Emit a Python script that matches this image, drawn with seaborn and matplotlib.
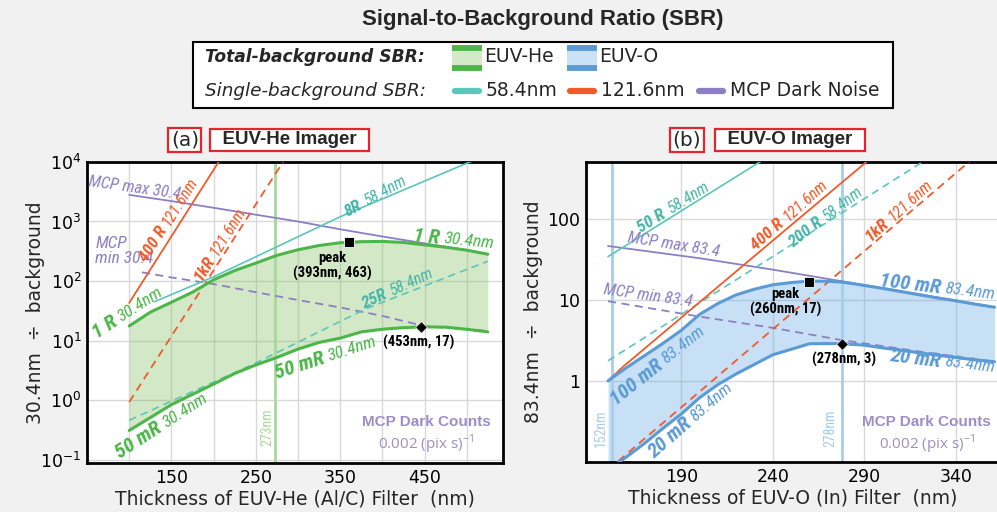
import numpy as np
import matplotlib
matplotlib.use("Agg")
import matplotlib.pyplot as plt
import matplotlib.ticker as mticker
from matplotlib import font_manager
from matplotlib.lines import Line2D
from matplotlib.patches import Rectangle
from matplotlib.transforms import offset_copy
import seaborn as sns

# ---------------- EUV-He (Al/C) imager ----------------
he_thick = [100, 125, 150, 175, 200, 225, 250, 275, 300, 325, 350, 375, 400, 425, 450, 475, 500, 525]
he_sbr_1R = [17.6, 30, 44, 65, 105, 150, 200, 270, 335, 395, 440, 458, 463, 445, 405, 370, 330, 282]
he_sbr_50mR = [0.31, 0.51, 0.84, 1.25, 1.86, 2.8, 3.9, 5.2, 7.2, 9.3, 11.0, 14.0, 15.5, 16.5, 17.0, 16.8, 15.5, 14.0]
he_mcp_x = [100, 150, 200, 250, 300, 350, 400, 450, 500, 525]
he_mcp_max = [2800, 2200, 1700, 1300, 1000, 740, 560, 430, 330, 282]
he_mcp_min_x = [115, 150, 200, 250, 300, 350, 400, 450, 500, 525]
he_mcp_min = [140, 115, 89, 65, 48, 36, 26, 17.5, 15.5, 14.5]
he_8R_x = [130, 200, 350, 500, 530]
he_8R = [45, 118, 1200, 9500, 14000]
he_25R_x = [100, 250, 380, 525]
he_25R = [0.46, 4.2, 34, 215]
he_400R_x = [100, 215]
he_400R = [43, 15900]
he_1kR_x = [100, 290]
he_1kR = [0.93, 14800]
he_cut = 273
he_peak_hi = (360, 452)
he_peak_lo = (446, 17)

# ---------------- EUV-O (In) imager ----------------
o_thick = [150, 160, 170, 180, 190, 200, 210, 220, 230, 240, 250, 260, 270, 278,
           290, 300, 310, 320, 330, 340, 350, 361]
o_sbr_100mR = [1.0, 1.45, 2.05, 2.9, 4.2, 6.6, 9.0, 11.5, 13.5, 15.3, 16.3, 17.0, 16.9, 16.5,
               15.0, 13.8, 12.6, 11.5, 10.5, 9.7, 8.85, 8.1]
o_sbr_20mR = [0.08, 0.115, 0.17, 0.26, 0.39, 0.62, 0.9, 1.22, 1.6, 2.1, 2.45, 2.87, 2.88, 2.88,
              2.75, 2.55, 2.38, 2.22, 2.07, 1.94, 1.82, 1.72]
o_mcp_x = [150, 200, 240, 277, 320, 361]
o_mcp_max = [46, 32.5, 23.5, 17, 11.7, 8.1]
o_mcp_min = [9.6, 6.2, 4.5, 3.2, 2.3, 1.72]
o_50R_x = [150, 240]
o_50R = [34, 630]
o_200R_x = [150, 361]
o_200R = [1.77, 1820]
o_400R_x = [150, 158, 215, 300]
o_400R = [1.0, 1.48, 18, 740]
o_1kR_x = [150, 361]
o_1kR = [0.08, 930]
o_cuts = [152, 278]
o_peak_hi = (260, 16.5)
o_peak_lo = (278, 2.88)

GREEN = "#4cb648"
BLUE = "#5b9bd5"
TEAL = "#5cc6bb"
TEAL_TXT = "#45b5a8"
ORANGE = "#f15a29"
PURPLE = "#8c7fc2"
BG = "#f0f1f0"
DASH = (0, (4.5, 3))


def pick_narrow():
    fl = font_manager.fontManager.ttflist
    names = {f.name for f in fl}
    for n in ["Liberation Sans Narrow", "Roboto Condensed", "Open Sans Condensed",
              "Noto Sans Condensed", "DejaVu Sans Condensed"]:
        if n in names:
            return n, "normal"
    for n in ["Noto Sans", "DejaVu Sans", "Roboto", "Open Sans"]:
        if any(f.name == n and "condensed" in str(f.stretch) for f in fl):
            return n, "condensed"
    return "Liberation Sans", "normal"


sns.set_theme(style="whitegrid")
NARROW, STRETCH = pick_narrow()
plt.rcParams["font.family"] = ["DejaVu Sans"]
plt.rcParams["axes.unicode_minus"] = True

fig = plt.figure(figsize=(9.97, 5.12), dpi=100, facecolor=BG)
ax1 = fig.add_axes([0.0873, 0.0957, 0.4172, 0.588])
ax2 = fig.add_axes([0.5878, 0.0977, 0.4152, 0.586])


def line(ax, x, y, color, lw=1.3, ls="-"):
    sns.lineplot(x=x, y=y, ax=ax, color=color, lw=lw, linestyle=ls,
                 estimator=None, sort=False, legend=False, zorder=3)


def tag(ax, x, y, bold, rest, color, rot, bsize=12.5, rsize=11.5):
    # bold part ends and regular part starts at (x, y), both along the same rotated line
    th = np.deg2rad(rot)
    g = 1.5
    kw = dict(color=color, rotation=rot, rotation_mode="anchor", va="center",
              family=NARROW, fontstretch=STRETCH, style="italic", zorder=5)
    tb = offset_copy(ax.transData, fig=fig, x=-g * np.cos(th), y=-g * np.sin(th), units="points")
    tr = offset_copy(ax.transData, fig=fig, x=g * np.cos(th), y=g * np.sin(th), units="points")
    ax.text(x, y, bold, transform=tb, ha="right", fontsize=bsize, weight="bold", **kw)
    ax.text(x, y, rest, transform=tr, ha="left", fontsize=rsize, **kw)


def note(ax, x, y, s, color, rot=0, size=12, **kw):
    ax.text(x, y, s, color=color, rotation=rot, rotation_mode="anchor", fontsize=size,
            family=NARROW, fontstretch=STRETCH, zorder=5, **kw)


for ax in (ax1, ax2):
    ax.set_facecolor("white")
    ax.set_yscale("log")
    for s in ax.spines.values():
        s.set_color("black")
        s.set_linewidth(2)
    ax.tick_params(which="both", length=0, labelsize=12.5, pad=4, colors="black")
    ax.yaxis.set_minor_locator(mticker.NullLocator())
    ax.grid(True, which="both", color="#d9d9d9", lw=1)
    ax.set_axisbelow(True)

# ---- panel (a) ----
ax1.axvline(he_cut, color="#a9d89b", lw=2, zorder=1.5)
ax1.fill_between(he_thick, he_sbr_50mR, he_sbr_1R, color="#70b648", alpha=0.3, lw=0, zorder=1)
line(ax1, he_mcp_x, he_mcp_max, PURPLE)
line(ax1, he_mcp_min_x, he_mcp_min, PURPLE, ls=DASH)
line(ax1, he_8R_x, he_8R, TEAL, lw=1.2)
line(ax1, he_25R_x, he_25R, TEAL, lw=1.2, ls=DASH)
line(ax1, he_400R_x, he_400R, ORANGE)
line(ax1, he_1kR_x, he_1kR, ORANGE, ls=DASH)
line(ax1, he_thick, he_sbr_1R, GREEN, lw=2.2)
line(ax1, he_thick, he_sbr_50mR, GREEN, lw=2.2)
sns.scatterplot(x=[he_peak_hi[0]], y=[he_peak_hi[1]], ax=ax1, marker="s", s=55, color="black", zorder=6, legend=False)
sns.scatterplot(x=[he_peak_lo[0]], y=[he_peak_lo[1]], ax=ax1, marker="D", s=35, color="black", zorder=6, legend=False)

ax1.set_xlim(50, 543)
ax1.set_ylim(0.088, 1e4)
ax1.set_xticks([150, 250, 350, 450])
ax1.set_xticks([100, 200, 300, 400, 500], minor=True)
ax1.yaxis.set_major_locator(mticker.LogLocator(base=10, numticks=10))
ax1.set_xlabel("Thickness of EUV-He (Al/C) Filter  (nm)", fontsize=13.5, labelpad=2)
ax1.set_ylabel("30.4nm  ÷  background", fontsize=13.5)
ax1.yaxis.set_label_coords(-0.101, 0.5)

note(ax1, 106, 3700, "MCP max 30.4", PURPLE, rot=-8, style="italic", ha="center", va="center")
note(ax1, 60, 320, "MCP\nmin 30.4", PURPLE, size=12.5, style="italic", ha="left", va="center",
     linespacing=0.95)
tag(ax1, 142, 830, "400 R", "121.6nm", ORANGE, 58)
tag(ax1, 198, 263, "1kR", "121.6nm", ORANGE, 58)
tag(ax1, 377, 2000, "8R", "58.4nm", TEAL_TXT, 29)
tag(ax1, 407, 63, "25R", "58.4nm", TEAL_TXT, 25)
tag(ax1, 471, 520, "1 R", "30.4nm", GREEN, -6, bsize=15, rsize=12.5)
tag(ax1, 86, 23, "1 R", "30.4nm", GREEN, 33, bsize=15, rsize=12.5)
tag(ax1, 334, 5.2, "50 mR", "30.4nm", GREEN, 18, bsize=15, rsize=12.5)
tag(ax1, 139, 0.38, "50 mR", "30.4nm", GREEN, 33, bsize=15, rsize=12.5)
note(ax1, 341, 178, "peak\n(393nm, 463)", "black", size=10.5, weight="bold",
     ha="center", va="center", linespacing=1.1)
note(ax1, 443, 9.3, "(453nm, 17)", "black", size=10.5, weight="bold", ha="center", va="center")
note(ax1, 264, 0.35, "273nm", "#a9d89b", rot=90, size=10, ha="center", va="center")
ax1.text(0.815, 0.136, "MCP Dark Counts", transform=ax1.transAxes, ha="center", va="center",
         color="#9b8ec9", fontsize=11, family="Liberation Sans", weight="bold")
ax1.text(0.815, 0.063, r"0.002 (pix s)$^{\mathdefault{-1}}$", transform=ax1.transAxes,
         ha="center", va="center", color="#9b8ec9", fontsize=11, family="Open Sans")

# ---- panel (b) ----
for c in o_cuts:
    ax2.axvline(c, color="#a6cdec", lw=2, zorder=1.5)
ax2.fill_between(o_thick, o_sbr_20mR, o_sbr_100mR, color="#489bde", alpha=0.3, lw=0, zorder=1)
line(ax2, o_mcp_x, o_mcp_max, PURPLE)
line(ax2, o_mcp_x, o_mcp_min, PURPLE, ls=DASH)
line(ax2, o_50R_x, o_50R, TEAL, lw=1.2)
line(ax2, o_200R_x, o_200R, TEAL, lw=1.2, ls=DASH)
line(ax2, o_400R_x, o_400R, ORANGE)
line(ax2, o_1kR_x, o_1kR, ORANGE, ls=DASH)
line(ax2, o_thick, o_sbr_100mR, BLUE, lw=2.2)
line(ax2, o_thick, o_sbr_20mR, BLUE, lw=2.2)
sns.scatterplot(x=[o_peak_hi[0]], y=[o_peak_hi[1]], ax=ax2, marker="s", s=55, color="black", zorder=6, legend=False)
sns.scatterplot(x=[o_peak_lo[0]], y=[o_peak_lo[1]], ax=ax2, marker="D", s=35, color="black", zorder=6, legend=False)

ax2.set_xlim(138, 364)
ax2.set_ylim(0.1, 500)
ax2.set_xticks([190, 240, 290, 340])
ax2.set_yticks([1, 10, 100], labels=["1", "10", "100"])
ax2.set_xlabel("Thickness of EUV-O (In) Filter  (nm)", fontsize=13.5, labelpad=2)
ax2.set_ylabel("83.4nm  ÷  background", fontsize=13.5)
ax2.yaxis.set_label_coords(-0.104, 0.5)

tag(ax2, 182, 122, "50 R", "58.4nm", TEAL_TXT, 32)
note(ax2, 186, 48, "MCP max 83.4", PURPLE, rot=-9, style="italic", ha="center", va="center")
tag(ax2, 246, 95, "400 R", "121.6nm", ORANGE, 42)
tag(ax2, 267, 97, "200 R", "58.4nm", TEAL_TXT, 38)
tag(ax2, 303, 97, "1kR", "121.6nm", ORANGE, 42)
tag(ax2, 333, 14, "100 mR", "83.4nm", BLUE, -7, bsize=15, rsize=12.5)
note(ax2, 172, 11.2, "MCP min 83.4", PURPLE, rot=-8, style="italic", ha="center", va="center")
tag(ax2, 179.6, 1.7, "100 mR", "83.4nm", BLUE, 38.5, bsize=15, rsize=12.5)
tag(ax2, 195, 0.33, "20 mR", "83.4nm", BLUE, 41, bsize=15, rsize=12.5)
tag(ax2, 333, 1.72, "20 mR", "83.4nm", BLUE, -7, bsize=15, rsize=12.5)
note(ax2, 247, 9.4, "peak\n(260nm, 17)", "black", size=10.5, weight="bold",
     ha="center", va="center", linespacing=1.1)
note(ax2, 279, 1.82, "(278nm, 3)", "black", size=10.5, weight="bold", ha="center", va="center")
note(ax2, 146, 0.26, "152nm", "#a6cdec", rot=90, size=10, ha="center", va="center")
note(ax2, 271.5, 0.26, "278nm", "#a6cdec", rot=90, size=10, ha="center", va="center")
ax2.text(0.823, 0.133, "MCP Dark Counts", transform=ax2.transAxes, ha="center", va="center",
         color="#9b8ec9", fontsize=11, family="Liberation Sans", weight="bold")
ax2.text(0.823, 0.06, r"0.002 (pix s)$^{\mathdefault{-1}}$", transform=ax2.transAxes,
         ha="center", va="center", color="#9b8ec9", fontsize=11, family="Open Sans")

# ---- panel headers ----
red_box = dict(boxstyle="square,pad=0.12", fc="white", ec="#e3262c", lw=1.6)
fig.text(0.1855, 0.727, "(a)", ha="center", va="center", fontsize=14.5, bbox=red_box)
fig.text(0.2905, 0.727, "  EUV-He Imager  ", ha="center", va="center", fontsize=13.5,
         family="Liberation Sans", weight="bold", bbox=red_box)
fig.text(0.689, 0.727, "(b)", ha="center", va="center", fontsize=14.5, bbox=red_box)
fig.text(0.7925, 0.727, "  EUV-O Imager  ", ha="center", va="center", fontsize=13.5,
         family="Liberation Sans", weight="bold", bbox=red_box)

# ---- legend block ----
W, H = 997.0, 512.0
fig.text(543 / W, 1 - 19 / H, "Signal-to-Background Ratio (SBR)", ha="center", va="center",
         fontsize=16, family="Liberation Sans", weight="bold")
fig.add_artist(Rectangle((193 / W, 1 - 108 / H), 700 / W, 66 / H, transform=fig.transFigure,
                         fc="white", ec="black", lw=1.5))
r1, r2 = 1 - 57 / H, 1 - 91 / H
fig.text(205 / W, r1, "Total-background SBR:", ha="left", va="center", fontsize=12.3,
         style="italic", weight="bold")
fig.text(205 / W, r2, "Single-background SBR:", ha="left", va="center", fontsize=13.2,
         style="italic")
for x0, edge, face, name in [(452, GREEN, "#d4e9c8", "EUV-He"), (567, BLUE, "#c9e2f5", "EUV-O")]:
    fig.add_artist(Rectangle((x0 / W, 1 - 71 / H), 30 / W, 26 / H, transform=fig.transFigure,
                             fc=face, ec="none"))
    for yy in (48, 68):
        fig.add_artist(Line2D([x0 / W, (x0 + 30) / W], [1 - yy / H] * 2, transform=fig.transFigure,
                              color=edge, lw=4.2, solid_capstyle="butt"))
    fig.text((x0 + 32) / W, r1, name, ha="left", va="center", fontsize=13.5)
for x0, col, name in [(455, TEAL, "58.4nm"), (570, ORANGE, "121.6nm"), (699, PURPLE, "MCP Dark Noise")]:
    fig.add_artist(Line2D([x0 / W, (x0 + 24) / W], [r2] * 2, transform=fig.transFigure,
                          color=col, lw=4.5, solid_capstyle="round"))
    fig.text((x0 + 31) / W, r2, name, ha="left", va="center", fontsize=13.5)

fig.savefig("out.png", dpi=100, facecolor=fig.get_facecolor())
